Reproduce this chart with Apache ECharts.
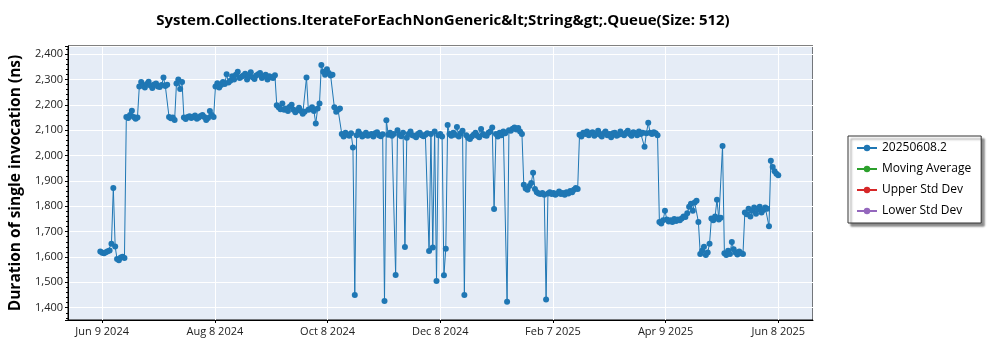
<!DOCTYPE html>
<html>
<head>
<meta charset="utf-8">
<title>Queue benchmark history</title>
<script src="https://cdn.jsdelivr.net/npm/echarts@6/dist/echarts.min.js"></script>
<style>
  html, body { margin: 0; padding: 0; background: #fff; }
  #chart { width: 1000px; height: 350px; }
</style>
</head>
<body>
<div id="chart"></div>
<script>
// Mean duration (ns) of one run per day, one array per month, index 0 = day 1.
// null = no run recorded that day.
const jun2024 = [null, null, null, null, null, null, null,
  1622, 1617, 1615, 1619, 1623, 1626, 1652, 1872, 1641, 1592, 1587, 1598, 1601, 1596,
  2152, 2148, 2160, 2176, 2152, 2145, 2150, 2272, 2290];
const jul2024 = [2275, 2268, 2282, 2291, 2276, 2266, 2280, 2284, 2272, 2270, 2278, 2307, 2274, 2279,
  2152, 2147, 2150, 2140, 2284, 2300, 2262, 2290, 2150, 2144, 2152, 2155, 2148, 2153, 2158, 2145, 2150];
const aug2024 = [2156, 2160, 2152, 2140, 2148, 2175, 2160, 2152, 2272, 2285, 2268, 2278, 2290, 2282,
  2320, 2288, 2295, 2312, 2300, 2318, 2330, 2305, 2310, 2315, 2322, 2300, 2312, 2328, 2308, 2302, 2315];
const sep2024 = [2320, 2325, 2305, 2312, 2318, 2300, 2312, 2308, 2305, 2316, 2198, 2190, 2182, 2205,
  2180, 2185, 2175, 2192, 2200, 2180, 2170, 2178, 2188, 2175, 2165, 2172, 2307, 2180, 2182, 2190];
const oct2024 = [2175, 2126, 2185, 2205, 2357, 2330, 2318, 2340, 2325, 2315, 2318, 2190, 2172, 2180,
  2185, 2085, 2075, 2090, 2082, 2078, 2088, 2032, 1450, 2080, 2095, 2085, 2075, 2080, 2090, 2078, 2082];
const nov2024 = [2085, 2075, 2088, 2092, 2080, 2076, 2084, 1426, 2139, 2082, 2090, 2078, 2085, 1529,
  2100, 2082, 2076, 2090, 1639, 2070, 2085, 2095, 2080, 2078, 2072, 2085, 2090, 2080, 2076, 2082];
const dec2024 = [2088, 1624, 2085, 1637, 2095, 1505, 2080, 2085, 2075, 1528, 1632, 2120, 2085, 2078,
  2090, 2082, 2112, 2075, 2088, 2098, 1450, 2080, 2070, 2065, 2075, 2082, 2090, 2078, 2072, 2104, 2085];
const jan2025 = [2080, 2078, 2090, 2095, 2110, 1789, 2085, 2075, 2090, 2080, 2095, 2088, 1424, 2100,
  2098, 2105, 2110, 2102, 2108, 2095, 2085, 1885, 1870, 1865, 1880, 1892, 1932, 1868, 1855, 1850, 1848];
const feb2025 = [1852, 1845, 1432, 1850, 1855, 1848, 1852, 1845, 1850, 1858, 1848, 1852, 1845, 1855,
  1850, 1860, 1855, 1865, 1872, 1868, 2082, 2075, 2090, 2085, 2095, 2080, 2088, 2092];
const mar2025 = [2078, 2085, 2098, 2082, 2075, 2088, 2095, 2080, 2085, 2072, 2088, 2090, 2078, 2082,
  2095, 2085, 2080, 2090, 2098, 2085, 2078, 2092, 2088, 2080, 2095, 2085, 2090, 2034, 2088, 2129, 2090];
const apr2025 = [2085, 2092, 2088, 2080, 1738, 1732, 1745, 1782, 1748, 1740, 1745, 1738, 1750, 1742,
  1748, 1745, 1752, 1760, 1758, 1772, 1798, 1810, 1782, 1815, 1822, 1738, 1612, 1625, 1640, 1608];
const may2025 = [1618, 1652, 1752, 1745, 1760, 1826, 1748, 1755, 2037, 1615, 1608, 1625, 1612, 1659,
  1630, 1618, 1610, 1622, 1615, 1612, 1775, 1768, 1790, 1760, 1782, 1795, 1770, 1788, 1798, 1775, 1785];
const jun2025 = [1795, 1790, 1721, 1979, 1955, 1938, 1928, 1922];

const monthBlocks = [
  [2024, 6, jun2024], [2024, 7, jul2024], [2024, 8, aug2024], [2024, 9, sep2024],
  [2024, 10, oct2024], [2024, 11, nov2024], [2024, 12, dec2024], [2025, 1, jan2025],
  [2025, 2, feb2025], [2025, 3, mar2025], [2025, 4, apr2025], [2025, 5, may2025], [2025, 6, jun2025]
];

// Date axis labels, one per major tick (every 364/6 days from Jun 9 2024).
const xTickLabels = ['Jun 9 2024', 'Aug 8 2024', 'Oct 8 2024', 'Dec 8 2024', 'Feb 7 2025', 'Apr 9 2025', 'Jun 8 2025'];

const seriesNames = ['20250608.2', 'Moving Average', 'Upper Std Dev', 'Lower Std Dev'];
const seriesColors = ['#1f77b4', '#2ca02c', '#d62728', '#9467bd'];

// x is measured in days from the first axis tick (Jun 9 2024).
const DAY = 86400000;
const ORIGIN = Date.UTC(2024, 5, 9);
const TICK_STEP = 364 / 6;

const points = [];
monthBlocks.forEach(([y, m, vals]) => {
  vals.forEach((v, i) => {
    if (v == null) return;
    const d = (Date.UTC(y, m - 1, i + 1) - ORIGIN) / DAY;
    points.push([d, v]);
  });
});

const FONT = "'Open Sans', 'Noto Sans', sans-serif";

const chart = echarts.init(document.getElementById('chart'), null, { renderer: 'canvas' });

chart.setOption({
  animation: false,
  backgroundColor: '#ffffff',
  title: {
    text: 'System.Collections.IterateForEachNonGeneric&lt;String&gt;.Queue(Size: 512)',
    left: 438,
    textAlign: 'center',
    top: 8,
    textStyle: { fontFamily: FONT, fontSize: 15, fontWeight: 'bold', color: '#000' }
  },
  legend: {
    orient: 'vertical',
    left: 848,
    top: 136,
    data: seriesNames,
    backgroundColor: '#fff',
    borderColor: '#333',
    borderWidth: 1,
    shadowColor: 'rgba(0,0,0,0.45)',
    shadowOffsetX: 3,
    shadowOffsetY: 3,
    shadowBlur: 2,
    padding: [6, 10, 6, 8],
    itemGap: 9,
    itemWidth: 20,
    itemHeight: 8,
    textStyle: { fontFamily: FONT, fontSize: 12, color: '#000' }
  },
  grid: {
    left: 63, right: 187, top: 46, bottom: 30,
    show: true,
    backgroundColor: '#e5ecf6',
    borderColor: '#000',
    borderWidth: 1
  },
  xAxis: {
    type: 'value',
    min: -18.4,
    max: 382.7,
    minInterval: TICK_STEP,
    maxInterval: TICK_STEP,
    axisLine: { show: true, onZero: false, lineStyle: { color: '#000' } },
    axisTick: { show: true, length: 3, lineStyle: { color: '#000' } },
    axisLabel: {
      showMinLabel: false, showMaxLabel: false,
      fontFamily: FONT, fontSize: 11, color: '#222', margin: 6,
      formatter: v => xTickLabels[Math.round(v / TICK_STEP)] || ''
    },
    splitLine: { show: true, lineStyle: { color: '#fff', width: 1 } }
  },
  yAxis: {
    type: 'value',
    min: 1351.6,
    max: 2431.6,
    minInterval: 100,
    maxInterval: 100,
    name: 'Duration of single invocation (ns)',
    nameLocation: 'middle',
    nameRotate: 90,
    nameGap: 44,
    nameTextStyle: { fontFamily: FONT, fontSize: 15.5, fontWeight: 'bold', color: '#000' },
    axisLine: { show: true, onZero: false, lineStyle: { color: '#000' } },
    axisTick: { show: true, length: 3, lineStyle: { color: '#000' } },
    minorTick: { show: true, splitNumber: 5, length: 2, lineStyle: { color: '#000' } },
    axisLabel: {
      showMinLabel: false, showMaxLabel: false,
      fontFamily: FONT, fontSize: 11, color: '#222', margin: 5,
      formatter: v => v.toLocaleString('en-US')
    },
    splitLine: { show: true, lineStyle: { color: '#fff', width: 1 } }
  },
  series: seriesNames.map((name, i) => ({
    name,
    type: 'line',
    data: i === 0 ? points : [],
    symbol: 'circle',
    symbolSize: 6,
    color: seriesColors[i],
    lineStyle: { width: 1, color: seriesColors[i] },
    itemStyle: { color: seriesColors[i] }
  }))
});
</script>
</body>
</html>
